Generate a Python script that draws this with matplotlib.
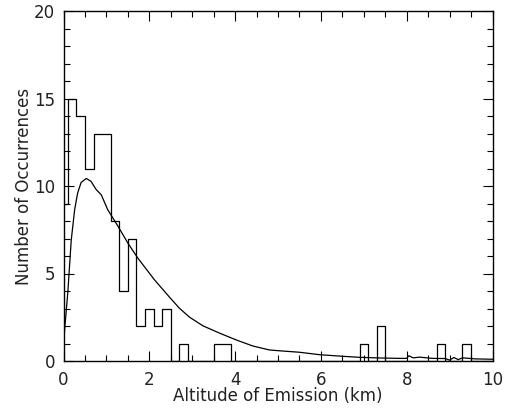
import numpy as np
import matplotlib
matplotlib.use("Agg")
import matplotlib.pyplot as plt
from matplotlib.ticker import MultipleLocator

# histogram: bin centres (width 0.2 km) and counts
bin_centers = [0.0, 0.2, 0.4, 0.6, 0.8, 1.0, 1.2, 1.4, 1.6, 1.8, 2.0, 2.2, 2.4,
               2.6, 2.8, 3.0, 3.2, 3.4, 3.6, 3.8, 4.0, 6.8, 7.0, 7.2, 7.4, 7.6,
               8.6, 8.8, 9.0, 9.2, 9.4, 9.6, 10.0]
counts = [9, 15, 14, 11, 13, 13, 8, 4, 7, 2, 3, 2, 3,
          0, 1, 0, 0, 0, 1, 1, 0, 0, 1, 0, 2, 0,
          0, 1, 0, 0, 1, 0, 0]

# smooth model curve
curve_x = [0.0, 0.02, 0.1, 0.18, 0.26, 0.33, 0.41, 0.53, 0.64, 0.76, 0.88, 1.03,
           1.27, 1.5, 1.73, 2.12, 2.47, 2.7, 2.94, 3.25, 3.64, 4.03, 4.41, 4.8,
           5.11, 5.5, 5.97, 6.5, 6.9, 7.4, 7.83, 8.0, 8.05, 8.15, 8.3, 8.6,
           8.9, 9.0, 9.1, 9.2, 9.3, 9.6, 10.0]
curve_y = [1.4, 1.6, 3.9, 6.9, 8.65, 9.6, 10.2, 10.43, 10.27, 9.8, 9.5, 8.65,
           7.7, 6.74, 5.89, 4.64, 3.65, 3.02, 2.5, 2.01, 1.59, 1.2, 0.86, 0.63,
           0.57, 0.5, 0.36, 0.27, 0.21, 0.17, 0.15, 0.15, 0.3, 0.18, 0.22, 0.15,
           0.14, 0.05, 0.2, 0.08, 0.18, 0.12, 0.1]

fig = plt.figure(figsize=(5.18, 4.09), dpi=100)
ax = fig.add_axes([63.5 / 518, 1 - 361 / 409, 429 / 518, 350 / 409])

# step histogram, IDL psym=10 style (steps centred on the bins)
ax.step(bin_centers, counts, where="mid", color="black", lw=0.9)
ax.plot(curve_x, curve_y, color="black", lw=0.9)

ax.set_xlim(0, 10)
ax.set_ylim(0, 20)
ax.xaxis.set_major_locator(MultipleLocator(2))
ax.xaxis.set_minor_locator(MultipleLocator(0.5))
ax.yaxis.set_major_locator(MultipleLocator(5))
ax.yaxis.set_minor_locator(MultipleLocator(1))
ax.tick_params(which="both", direction="in", top=True, right=True,
               labelsize=12, width=0.8, labelcolor="#222222")
ax.tick_params(axis="x", pad=7)
ax.tick_params(axis="y", pad=6)
ax.tick_params(which="major", length=7)
ax.tick_params(which="minor", length=4)
for s in ax.spines.values():
    s.set_linewidth(1.0)

ax.set_xlabel("Altitude of Emission (km)", fontsize=12, labelpad=-1, color="#222222")
ax.set_ylabel("Number of Occurrences", fontsize=12, labelpad=1, color="#222222")

fig.savefig("out.png", dpi=100)
